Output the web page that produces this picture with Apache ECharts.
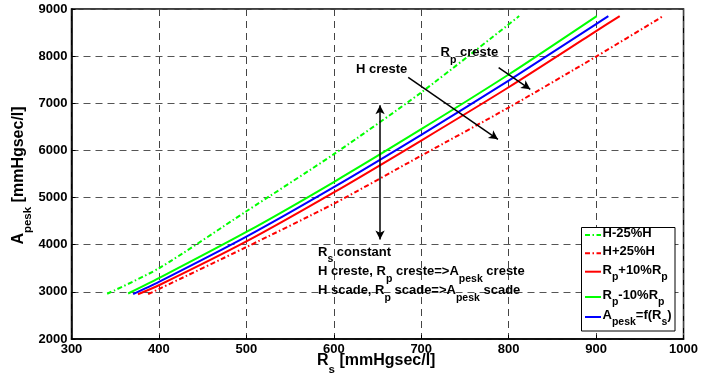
<!DOCTYPE html>
<html><head><meta charset="utf-8">
<script src="https://cdn.jsdelivr.net/npm/echarts@6/dist/echarts.min.js"></script>
<style>html,body{margin:0;padding:0;background:#fff}#c{width:701px;height:379px}</style>
</head><body><div id="c"></div><script>
// ---- data ----
const xTicks = [300, 400, 500, 600, 700, 800, 900, 1000];
const yTicks = [2000, 3000, 4000, 5000, 6000, 7000, 8000, 9000];

const hMinusRs = [340.8, 400, 500, 600, 700, 812];
const hMinusA  = [2960, 3500, 4710, 5920, 7230, 8850];

const hPlusRs  = [387.6, 400, 500, 600, 700, 800, 900, 976.7];
const hPlusA   = [2950, 3060, 3950, 4870, 5890, 6910, 7990, 8850];

const rpPlusRs = [376, 400, 500, 600, 700, 800, 900, 927];
const rpPlusA  = [2950, 3140, 4070, 5110, 6210, 7340, 8530, 8850];

const rpMinusRs = [364.8, 400, 500, 600, 700, 800, 900.7];
const rpMinusA  = [2965, 3290, 4270, 5330, 6450, 7610, 8850];

const baseRs = [370.5, 400, 500, 600, 700, 800, 900, 914];
const baseA  = [2950, 3210, 4170, 5220, 6330, 7480, 8680, 8850];

// annotation arrows (data coordinates)
const arrowHcreste  = [[685.1, 7551], [787.7, 6236]];
const arrowRpcreste = [[788.5, 7755], [824.7, 7297]];
const arrowRs       = [[652.9, 6957], [652.9, 4109]];

const FONT = 'Liberation Sans';
const pairs = (xs, ys) => xs.map((x, i) => [x, ys[i]]);

function richSet(F, f, LH, P) {
  return {
    m: {fontSize: F, fontWeight: 'bold', fontFamily: FONT, fill: '#000', color: '#000', lineHeight: LH, verticalAlign: 'top'},
    s: {fontSize: f, fontWeight: 'bold', fontFamily: FONT, fill: '#000', color: '#000', lineHeight: f + 1, padding: [P, 0, 0, 0], verticalAlign: 'top'}
  };
}
const r13 = richSet(13, 10.5, 16, 8);
const r16 = richSet(16, 11.5, 20, 11);

function rtext(x, y, text, rich) {
  return {
    type: 'text', x: x, y: y, silent: true, z: 100,
    style: {text: text, rich: rich, align: 'left', verticalAlign: 'top', fill: '#000',
            font: 'bold 13px ' + FONT}
  };
}

const chart = echarts.init(document.getElementById('c'), null, {renderer: 'canvas'});

const dashDot = [5, 2.5, 1.5, 2.5];
function mkSeries(name, xs, ys, color, type) {
  return {
    name: name, type: 'line', data: pairs(xs, ys), showSymbol: false, symbol: 'none',
    smooth: 0.25, animation: false, silent: true,
    lineStyle: {color: color, width: 2, type: type}
  };
}

const series = [
  mkSeries('H-25%H', hMinusRs, hMinusA, '#00ff00', dashDot),
  mkSeries('H+25%H', hPlusRs, hPlusA, '#ff0000', dashDot),
  mkSeries('Rp+10%Rp', rpPlusRs, rpPlusA, '#ff0000', 'solid'),
  mkSeries('Rp-10%Rp', rpMinusRs, rpMinusA, '#00ff00', 'solid'),
  mkSeries('Apesk=f(Rs)', baseRs, baseA, '#0000ff', 'solid')
];
series.push({
  type: 'line', data: [], silent: true, animation: false,
  markLine: {
    silent: true, animation: false, symbol: ['none', 'arrow'], symbolSize: [7, 9],
    label: {show: false},
    lineStyle: {color: '#000', width: 1.5, type: 'solid'},
    emphasis: {disabled: true},
    data: [
      [{coord: arrowHcreste[0]}, {coord: arrowHcreste[1]}],
      [{coord: arrowRpcreste[0]}, {coord: arrowRpcreste[1]}],
      [{coord: arrowRs[0], symbol: 'arrow'}, {coord: arrowRs[1]}]
    ]
  }
});

// legend (custom box)
const legendRows = [
  {y: 235, color: '#00ff00', type: dashDot, text: '{m|H-25%H}'},
  {y: 253.3, color: '#ff0000', type: dashDot, text: '{m|H+25%H}'},
  {y: 271.7, color: '#ff0000', type: 'solid', text: '{m|R}{s|p}{m|+10%R}{s|p}'},
  {y: 297, color: '#00ff00', type: 'solid', text: '{m|R}{s|p}{m|-10%R}{s|p}'},
  {y: 317, color: '#0000ff', type: 'solid', text: '{m|A}{s|pesk}{m|=f(R}{s|s}{m|)}'}
];
const legendEls = [{
  type: 'rect', silent: true, z: 90,
  shape: {x: 581.5, y: 227.5, width: 93.5, height: 103.5},
  style: {fill: '#fff', stroke: '#000', lineWidth: 1}
}];
legendRows.forEach(r => {
  legendEls.push({type: 'line', silent: true, z: 95,
    shape: {x1: 585, y1: r.y, x2: 601, y2: r.y},
    style: {stroke: r.color, lineWidth: 2, lineDash: r.type === 'solid' ? null : r.type}});
  legendEls.push(rtext(602.5, r.y - 8, r.text, r13));
});

const graphics = [
  rtext(356, 63, '{m|H creste}', r13),
  rtext(440.5, 46.3, '{m|R}{s|p}{m| creste}', r13),
  rtext(318, 246, '{m|R}{s|s}{m| constant}', r13),
  rtext(318, 265.3, '{m|H creste, R}{s|p}{m| creste=>A}{s|pesk}{m| creste}', r13),
  rtext(318, 284.3, '{m|H scade, R}{s|p}{m| scade=>A}{s|pesk}{m| scade}', r13),
  // axis names
  rtext(317, 352.5, '{m|R}{s|s}{m| [mmHgsec/l]}', r16),
  {
    type: 'text', x: 10.5, y: 175.5, rotation: Math.PI / 2, silent: true, z: 100,
    style: {text: '{m|A}{s|pesk}{m| [mmHgsec/l]}', rich: r16, align: 'center', verticalAlign: 'top',
            fill: '#000', font: 'bold 16px ' + FONT}
  }
].concat(legendEls);

const plainNum = v => String(v);

chart.setOption({
  animation: false,
  backgroundColor: '#fff',
  grid: {left: 71.5, right: 15.5, top: 9, bottom: 40, show: true, borderColor: '#000', borderWidth: 1.5, backgroundColor: 'transparent'},
  xAxis: {
    type: 'value', min: xTicks[0], max: xTicks[xTicks.length - 1], interval: 100,
    axisLine: {show: true, onZero: false, lineStyle: {color: '#000', width: 1.5}},
    axisTick: {show: true, inside: true, length: 4, lineStyle: {color: '#000'}},
    axisLabel: {margin: 4, color: '#000', fontSize: 13, fontWeight: 'bold', fontFamily: FONT, formatter: plainNum},
    splitLine: {show: true, lineStyle: {color: '#444', width: 1, type: [7, 5]}}
  },
  yAxis: {
    type: 'value', min: yTicks[0], max: yTicks[yTicks.length - 1], interval: 1000,
    axisLine: {show: true, onZero: false, lineStyle: {color: '#000', width: 1.5}},
    axisTick: {show: true, inside: true, length: 4, lineStyle: {color: '#000'}},
    axisLabel: {margin: 4, color: '#000', fontSize: 13, fontWeight: 'bold', fontFamily: FONT, formatter: plainNum},
    splitLine: {show: true, lineStyle: {color: '#555', width: 1.2, type: [7, 5]}}
  },
  series: series,
  graphic: graphics
});
</script></body></html>
